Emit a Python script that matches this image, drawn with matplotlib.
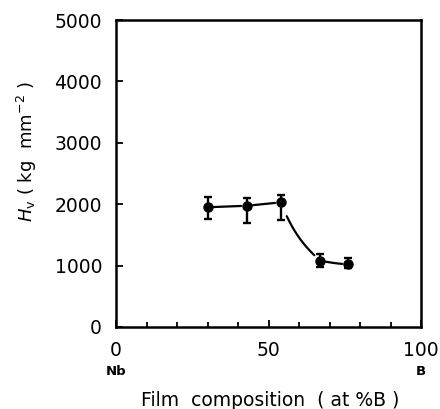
import matplotlib
matplotlib.use("Agg")
import matplotlib.pyplot as plt
import numpy as np

# film composition (at % B) and Vickers hardness
comp = [30, 43, 54, 67, 76]
hv = [1950, 1975, 2030, 1080, 1020]
err_hi = [175, 125, 120, 105, 105]
err_lo = [190, 285, 285, 100, 60]


def hermite(x0, x1, y0, y1, m0, m1, n=60):
    t = np.linspace(0, 1, n)
    h = x1 - x0
    xs = x0 + t * h
    ys = ((2 * t**3 - 3 * t**2 + 1) * y0 + (t**3 - 2 * t**2 + t) * h * m0
          + (-2 * t**3 + 3 * t**2) * y1 + (t**3 - t**2) * h * m1)
    return xs, ys


plt.rcParams['font.family'] = ['DejaVu Sans']

fig = plt.figure(figsize=(4.4, 4.09), dpi=100)
ax = fig.add_axes([116 / 440, 1 - 327 / 409, 305 / 440, 307 / 409])

# smooth guide line, slightly detached from the markers
slope = np.diff(hv) / np.diff(comp)
m_start = [slope[0], slope[1], slope[2] * 1.7, slope[3] * 1.5]
m_end = [slope[0], slope[1], slope[2] * 0.6, slope[3] * 0.5]
for i in range(len(comp) - 1):
    xs, ys = hermite(comp[i], comp[i + 1], hv[i], hv[i + 1], m_start[i], m_end[i])
    keep = (xs > comp[i] + 1.8) & (xs < comp[i + 1] - 1.8)
    ax.plot(xs[keep], ys[keep], color='black', lw=1.6, solid_capstyle='round')

ax.errorbar(comp, hv, yerr=[err_lo, err_hi], fmt='o', color='black',
            ms=6.5, elinewidth=1.7, capsize=2.8, capthick=1.7)

ax.set_xlim(0, 100)
ax.set_ylim(0, 5000)
ax.set_xticks([0, 50, 100])
ax.set_xticks(np.arange(0, 101, 10), minor=True)
ax.set_yticks(np.arange(0, 5001, 1000))
ax.tick_params(which='both', direction='in', width=1.3, labelsize=13.5, pad=10)
ax.tick_params(which='major', length=5)
ax.tick_params(which='minor', length=3.5)
for s in ax.spines.values():
    s.set_linewidth(1.8)

ax.text(0, -0.145, 'Nb', transform=ax.transAxes, ha='center', va='center',
        fontsize=9.5, fontweight='bold')
ax.text(1.0, -0.145, 'B', transform=ax.transAxes, ha='center', va='center',
        fontsize=9.5, fontweight='bold')

fig.text(270 / 440, 1 - 400 / 409, 'Film  composition  ( at %B )',
         ha='center', va='center', fontsize=13.5)
fig.text(27 / 440, 1 - 152 / 409, r'$H_{\rm v}$ ( kg  mm$^{-2}$ )',
         ha='center', va='center', rotation=90, fontsize=13)

fig.savefig('out.png', dpi=100)
